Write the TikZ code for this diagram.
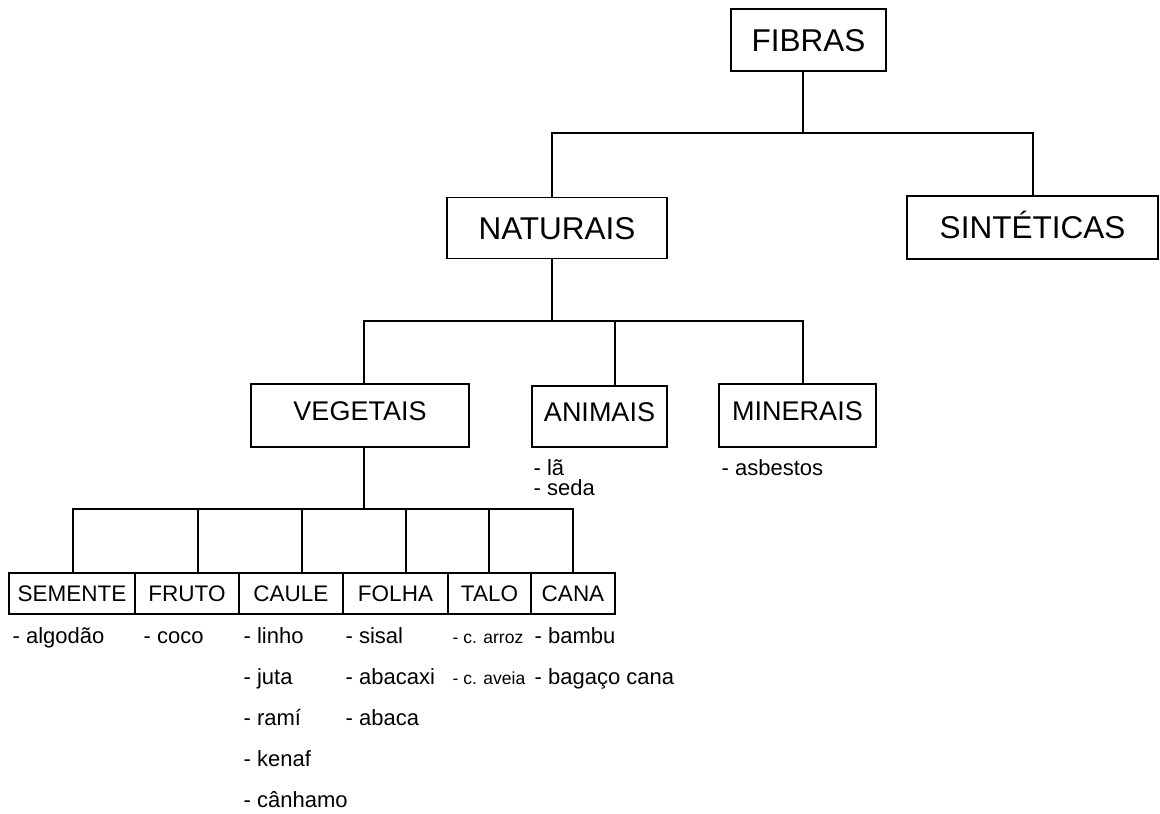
\documentclass[tikz,border=0pt]{standalone}
\usepackage{fontspec}
\setmainfont{Liberation Sans}
\usepackage{tikz}
\usetikzlibrary{positioning}

\tikzset{
  big/.style={draw,inner sep=0pt,font=\fontsize{31.5}{36}\selectfont,text height=22.5pt,text depth=0pt},
  mid/.style={draw,inner sep=0pt,font=\fontsize{27}{30}\selectfont,text height=19.3pt,text depth=9pt},
  leaf/.style={draw,inner sep=0pt,outer sep=0pt,minimum height=41pt,font=\fontsize{22.5}{26}\selectfont,text height=16.1pt,text depth=0pt},
  items/.style={inner sep=0pt,anchor=base west,align=left,font=\fontsize{22}{41}\selectfont},
}

\begin{document}
\begin{tikzpicture}[x=1pt,y=-1pt,line width=1.3pt]
      \useasboundingbox (0,0) rectangle (1160,814);

      \node[big,minimum width=155pt,minimum height=62pt] (fibras) at (808.5,40) {FIBRAS};
      \node[big,minimum width=220pt,minimum height=61pt] (naturais) at (557,228) {NATURAIS};
      \node[big,minimum width=251pt,minimum height=63pt] (sinteticas) at (1032.5,227.5) {SINTÉTICAS};

      \node[mid,minimum width=218pt,minimum height=63pt] (vegetais) at (360,415.5) {VEGETAIS};
      \node[mid,minimum width=135pt,minimum height=61pt] (animais) at (599.5,416.5) {ANIMAIS};
      \node[mid,minimum width=157pt,minimum height=63pt] (minerais) at (797.5,415.5) {MINERAIS};

      \node[leaf,minimum width=126pt] (semente) at (72,593.5) {SEMENTE};
      \node[leaf,minimum width=104pt,right=0pt of semente] (fruto) {FRUTO};
      \node[leaf,minimum width=104pt,right=0pt of fruto] (caule) {CAULE};
      \node[leaf,minimum width=105pt,right=0pt of caule] (folha) {FOLHA};
      \node[leaf,minimum width=83pt,right=0pt of folha] (talo) {TALO};
      \node[leaf,minimum width=84pt,right=0pt of talo] (cana) {CANA};

      % anchored at the baseline of the last line
      \node[items,font=\fontsize{22}{20.5}\selectfont] (animaislist) at (533,495.5) {- lã\\- seda};
      \node[items] (mineraislist) at (721,475) {- asbestos};
      \node[items] (sementelist) at (12,643) {- algodão};
      \node[items] (frutolist) at (143,643) {- coco};
      \node[items] (caulelist) at (243,807) {- linho\\- juta\\- ramí\\- kenaf\\- cânhamo};
      \node[items] (folhalist) at (345,725) {- sisal\\- abacaxi\\- abaca};
      \node[items,font=\fontsize{17.5}{41}\selectfont] (talolist) at (452,684) {- c. arroz\\- c. aveia};
      \node[items] (canalist) at (534,684) {- bambu\\- bagaço cana};

      \coordinate (j0) at (803,133);
      \coordinate (j1) at (552,133);
      \coordinate (j2) at (1033,133);
      \draw (fibras.south -| j0) -- (j0);
      \draw (naturais.north -| j1) |- (j2) -- (sinteticas.north -| j2);

      \coordinate (k0) at (552,321);
      \coordinate (k1) at (364,321);
      \coordinate (k2) at (615,321);
      \coordinate (k3) at (803,321);
      \draw (naturais.south -| k0) -- (k0);
      \draw (vegetais.north -| k1) |- (k3) -- (minerais.north -| k3);
      \draw (animais.north -| k2) -- (k2);

      \coordinate (m0) at (364,509);
      \coordinate (m1) at (73,509);
      \coordinate (m2) at (198,509);
      \coordinate (m3) at (302,509);
      \coordinate (m4) at (406,509);
      \coordinate (m5) at (489,509);
      \coordinate (m6) at (573,509);
      \draw (vegetais.south -| m0) -- (m0);
      \draw (semente.north -| m1) |- (m6) -- (cana.north -| m6);
      \draw (fruto.north -| m2) -- (m2);
      \draw (caule.north -| m3) -- (m3);
      \draw (folha.north -| m4) -- (m4);
      \draw (talo.north -| m5) -- (m5);
    \end{tikzpicture}
\end{document}
